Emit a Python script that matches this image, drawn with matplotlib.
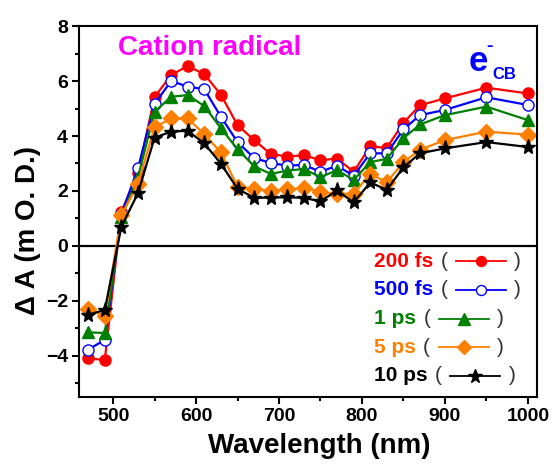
import matplotlib
matplotlib.use("Agg")
import matplotlib.pyplot as plt
from matplotlib.lines import Line2D
from matplotlib.offsetbox import TextArea, DrawingArea, HPacker, VPacker, AnchoredOffsetbox

plt.rcParams['font.family'] = ['Liberation Sans', 'DejaVu Sans']

wavelength = [470, 490, 510, 530, 550, 570, 590, 610, 630, 650, 670, 690,
              710, 730, 750, 770, 790, 810, 830, 850, 870, 900, 950, 1000]
s200fs = [-4.10, -4.15, 1.25, 2.65, 5.42, 6.22, 6.55, 6.25, 5.50, 4.40, 3.85, 3.35,
          3.25, 3.30, 3.12, 3.18, 2.70, 3.62, 3.57, 4.48, 5.12, 5.37, 5.76, 5.55]
s500fs = [-3.78, -3.42, 1.15, 2.83, 5.17, 6.00, 5.80, 5.70, 4.70, 3.78, 3.20, 3.02,
          2.92, 2.95, 2.70, 2.92, 2.55, 3.37, 3.37, 4.24, 4.76, 4.95, 5.41, 5.13]
s1ps = [-3.15, -3.17, 1.05, 2.50, 4.88, 5.43, 5.49, 5.09, 4.28, 3.52, 2.90, 2.62,
        2.74, 2.80, 2.50, 2.76, 2.40, 3.05, 3.17, 3.92, 4.42, 4.76, 5.07, 4.58]
s5ps = [-2.30, -2.56, 1.12, 2.25, 4.32, 4.64, 4.64, 4.06, 3.40, 2.15, 2.08, 2.00,
        2.07, 2.10, 1.97, 1.88, 1.90, 2.62, 2.32, 3.05, 3.50, 3.85, 4.16, 4.05]
s10ps = [-2.51, -2.33, 0.70, 1.92, 3.94, 4.16, 4.19, 3.73, 2.99, 2.08, 1.75, 1.76,
         1.77, 1.75, 1.62, 2.02, 1.58, 2.31, 2.04, 2.86, 3.37, 3.55, 3.78, 3.60]

labels = ['200 fs', '500 fs', '1 ps', '5 ps', '10 ps']
series = [s200fs, s500fs, s1ps, s5ps, s10ps]
colors = ['#FF0000', '#0000FF', '#008000', '#FF8000', '#000000']
markers = ['o', 'o', '^', 'D', '*']
mfaces = ['#FF0000', 'white', '#008000', '#FF8000', '#000000']
msizes = [8, 8, 9, 8, 11]

xticks = [500, 600, 700, 800, 900, 1000]
yticks = [-4, -2, 0, 2, 4, 6, 8]

fig = plt.figure(figsize=(5.53, 4.67), dpi=100)
ax = fig.add_axes([0.143, 0.150, 0.828, 0.794])

for y, c, m, mf, ms in zip(series, colors, markers, mfaces, msizes):
    ax.plot(wavelength, y, color=c, lw=1.6, marker=m, markersize=ms,
            markerfacecolor=mf, markeredgecolor=c, markeredgewidth=1.0)

ax.axhline(0, color='black', lw=1.6, zorder=1)

ax.set_xlim(459, 1011)
ax.set_ylim(-5.5, 8)
ax.set_xticks(xticks)
ax.set_yticks(yticks)
ax.set_xticks([550, 650, 750, 850, 950], minor=True)
ax.set_yticks([-5, -3, -1, 1, 3, 5, 7], minor=True)
ax.tick_params(axis='both', which='major', direction='out', length=5, width=1.5,
               labelsize=14, pad=3)
ax.tick_params(axis='both', which='minor', direction='out', length=3, width=1.5)
for lab in ax.get_xticklabels() + ax.get_yticklabels():
    lab.set_fontweight('bold')
for sp in ax.spines.values():
    sp.set_linewidth(1.5)

ax.set_xlabel('Wavelength (nm)', fontsize=20, fontweight='bold')
ax.xaxis.set_label_coords(0.524, -0.098)
ax.set_ylabel('Δ A (m O. D.)', fontsize=20, fontweight='bold')
ax.yaxis.set_label_coords(-0.084, 0.45)

ax.text(0.085, 0.941, 'Cation radical', transform=ax.transAxes, color='#FF00FF',
        fontsize=20, fontweight='bold', ha='left', va='center')
ax.text(0.871, 0.906, 'e', transform=ax.transAxes, color='#0000FF',
        fontsize=25, fontweight='bold', ha='center', va='center')
ax.text(0.897, 0.945, '-', transform=ax.transAxes, color='#0000FF',
        fontsize=14, fontweight='bold', ha='center', va='center')
ax.text(0.902, 0.870, 'CB', transform=ax.transAxes, color='#0000FF',
        fontsize=12, fontweight='bold', ha='left', va='center')

rows = []
for lab, c, m, mf, ms in zip(labels, colors, markers, mfaces, msizes):
    t1 = TextArea(lab, textprops=dict(color=c, fontsize=15, fontweight='bold'))
    t2 = TextArea('(', textprops=dict(color='#333333', fontsize=15))
    da = DrawingArea(38, 12, 0, 0)
    da.add_artist(Line2D([1, 37], [6, 6], color=c, lw=1.3))
    da.add_artist(Line2D([19], [6], color=c, marker=m, markersize=ms * 0.9,
                         markerfacecolor=mf, markeredgecolor=c, markeredgewidth=1.0))
    t3 = TextArea(')', textprops=dict(color='#333333', fontsize=15))
    rows.append(HPacker(children=[t1, t2, da, t3], align='center', pad=0, sep=5))
box = VPacker(children=rows, align='left', pad=0, sep=7)
anch = AnchoredOffsetbox(loc='upper left', child=box, pad=0, borderpad=0,
                         frameon=False, bbox_to_anchor=(0.645, 0.392),
                         bbox_transform=ax.transAxes)
ax.add_artist(anch)

fig.savefig('out.png', dpi=100)
